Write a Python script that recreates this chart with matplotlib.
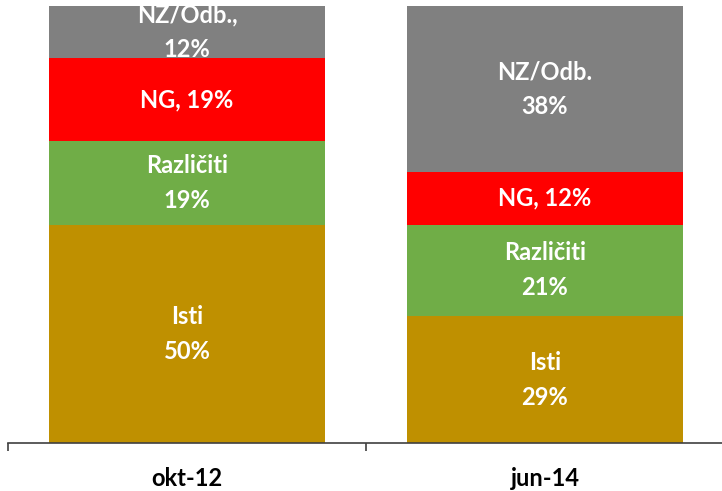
import matplotlib.pyplot as plt

periods = ['okt-12', 'jun-14']
groups = ['Isti', 'Različiti', 'NG', 'NZ/Odb.']
shares = {
    'Isti': [50, 29],
    'Različiti': [19, 21],
    'NG': [19, 12],
    'NZ/Odb.': [12, 38],
}
# label layout for each segment, per period
label_fmt = {
    'Isti': ['{g}\n{v}%', '{g}\n{v}%'],
    'Različiti': ['{g}\n{v}%', '{g}\n{v}%'],
    'NG': ['{g}, {v}%', '{g}, {v}%'],
    'NZ/Odb.': ['NZ/Odb.,\n{v}%', '{g}\n{v}%'],
}
colors = {
    'Isti': '#BF9000',
    'Različiti': '#70AD47',
    'NG': '#FF0000',
    'NZ/Odb.': '#808080',
}

plt.rcParams['font.family'] = ['Lato', 'DejaVu Sans']

fig = plt.figure(figsize=(7.22, 4.91), dpi=100)
ax = fig.add_axes([8 / 722, 48 / 491, 716 / 722, 437 / 491])

x = range(len(periods))
bottom = [0] * len(periods)
for g in groups:
    vals = shares[g]
    ax.bar(x, vals, width=0.77, bottom=bottom, color=colors[g], linewidth=0)
    for i, v in enumerate(vals):
        ax.text(i, bottom[i] + v / 2, label_fmt[g][i].format(g=g, v=v),
                ha='center', va='center', color='white', fontsize=17,
                fontweight='bold', linespacing=1.62)
    bottom = [b + v for b, v in zip(bottom, vals)]

ax.set_xlim(-0.5, 1.5)
ax.set_ylim(0, 100)
for side in ['top', 'right', 'left']:
    ax.spines[side].set_visible(False)
ax.spines['bottom'].set_color('#404040')
ax.spines['bottom'].set_linewidth(1.2)
ax.set_yticks([])
ax.set_xticks(list(x))
ax.set_xticklabels(periods, fontsize=17, fontweight='bold')
ax.tick_params(axis='x', which='major', length=0, pad=17)
ax.set_xticks([-0.5, 0.5, 1.5], minor=True)
ax.tick_params(axis='x', which='minor', length=6, width=1.2, color='#404040')

fig.savefig('out.png', dpi=100)
